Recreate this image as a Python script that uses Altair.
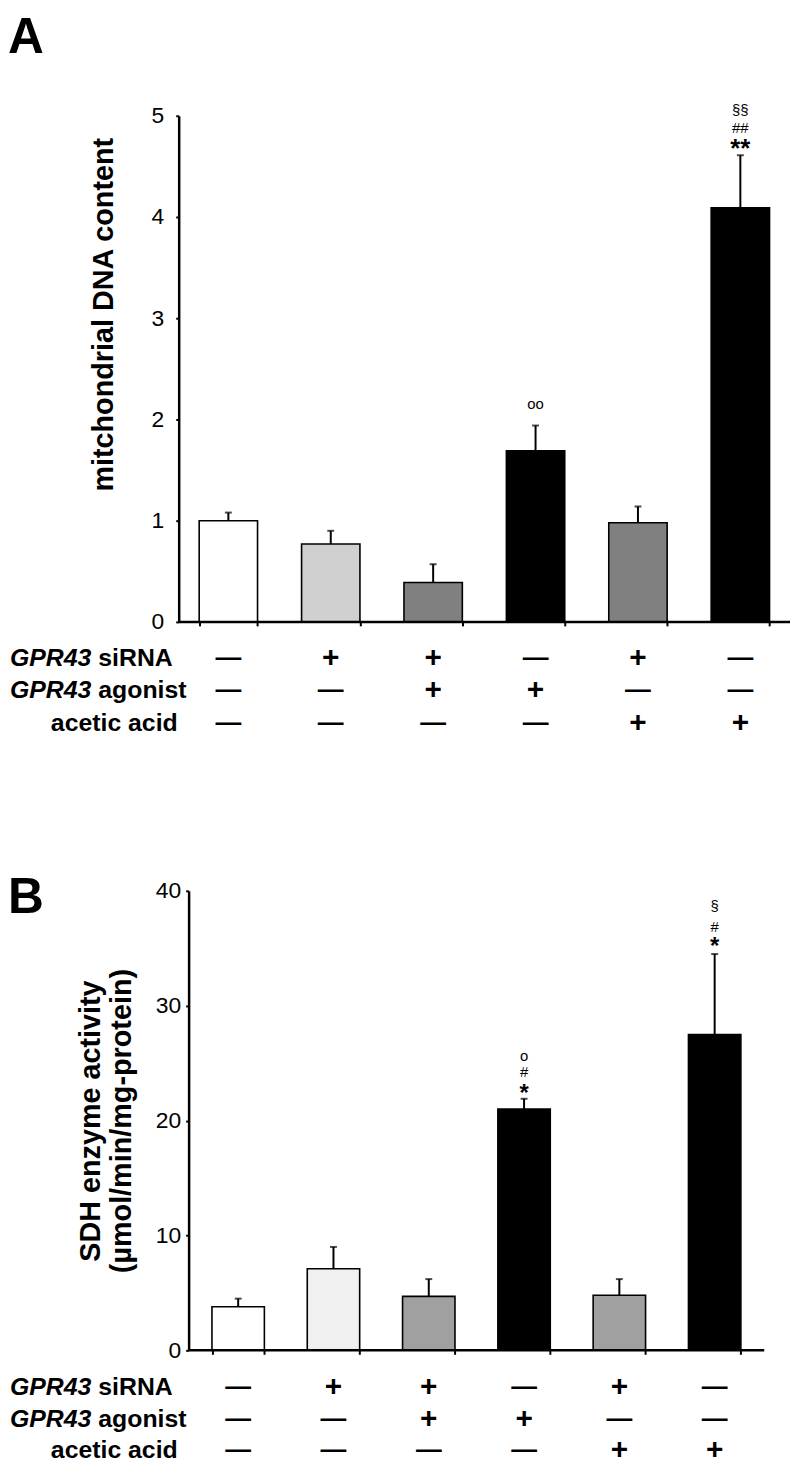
import altair as alt
import pandas as pd

# ---------------- data ----------------
groups = ["1", "2", "3", "4", "5", "6"]
row_names = ["siRNA", "agonist", "acetic"]
row_prefix = ["GPR43", "GPR43", ""]
row_suffix = ["siRNA", "agonist", "acetic acid"]
sirna_signs = ["—", "+", "+", "—", "+", "—"]
agonist_signs = ["—", "—", "+", "+", "—", "—"]
acetic_signs = ["—", "—", "—", "—", "+", "+"]

a_means = [1.00, 0.77, 0.39, 1.69, 0.98, 4.09]
a_errs = [0.08, 0.13, 0.18, 0.25, 0.16, 0.52]
a_colors = ["#ffffff", "#d0d0d0", "#808080", "#000000", "#808080", "#000000"]
a_ticks = [0, 1, 2, 3, 4, 5]
a_mark_groups = ["4", "6", "6", "6"]
a_mark_texts = ["oo", "**", "##", "§§"]
a_mark_y = [2.15, 4.67, 4.88, 5.06]

b_means = [3.8, 7.1, 4.7, 21.0, 4.8, 27.5]
b_errs = [0.7, 1.9, 1.5, 0.9, 1.4, 7.0]
b_colors = ["#ffffff", "#f0f0f0", "#a0a0a0", "#000000", "#a0a0a0", "#000000"]
b_ticks = [0, 10, 20, 30, 40]
b_mark_groups = ["4", "4", "4", "6", "6", "6"]
b_mark_texts = ["*", "#", "o", "*", "#", "§"]
b_mark_y = [22.3, 24.2, 25.6, 35.1, 36.85, 38.7]

FONT = "Liberation Sans"
IS_STAR = "datum.t == '*' || datum.t == '**'"


def panel(letter, means, errs, colors, ymax, ticks, ytitle, mgroups, mtexts, my,
          W, H, xrange, x0, x1, yoffset, title_pad, label_pad, title_y, row_offsets,
          letter_y, star_size):
    df = pd.DataFrame({"g": groups, "m": means,
                       "e": [m + e for m, e in zip(means, errs)]})
    mk = pd.DataFrame({"g": mgroups, "t": mtexts, "y": my})
    tab = pd.DataFrame({
        "g": groups * 3,
        "row": [r for r in row_names for _ in groups],
        "s": sirna_signs + agonist_signs + acetic_signs,
    })
    lbl = pd.DataFrame({"row": row_names, "pre": row_prefix, "suf": row_suffix})

    xs = alt.Scale(domain=groups, range=xrange, paddingInner=0.45 if W < 600 else 0.43,
                   paddingOuter=0.245 if W < 600 else 0.2)
    x = alt.X("g:N", sort=groups, scale=xs,
              axis=alt.Axis(title=None, labels=False, domain=False, ticks=True,
                            tickBand="extent", tickSize=4, tickWidth=2,
                            tickColor="black", grid=False))
    ys = alt.Scale(domain=[0, ymax], nice=False, zero=True)
    axis_kw = dict(values=ticks, title=ytitle, titleFont=FONT, titleFontSize=29,
                   titleFontWeight="bold", titleColor="black", titlePadding=title_pad,
                   titleLineHeight=31,
                   labelFont=FONT, labelFontSize=23, labelColor="black",
                   labelPadding=label_pad, tickSize=3, tickWidth=2, tickColor="black",
                   domainWidth=2.5, domainColor="black", grid=False, offset=yoffset)
    if title_y is not None:
        axis_kw["titleY"] = title_y
    y_axis = alt.Axis(**axis_kw)

    bars = alt.Chart(df).mark_bar(stroke="black", strokeWidth=1.6).encode(
        x=x,
        y=alt.Y("m:Q", scale=ys, axis=y_axis),
        color=alt.Color("g:N", scale=alt.Scale(domain=groups, range=colors), legend=None),
    )
    err = alt.Chart(df).mark_rule(color="black", strokeWidth=2).encode(
        x=x, y=alt.Y("m:Q", scale=ys, axis=None), y2="e:Q")
    cap = alt.Chart(df).mark_tick(color="black", thickness=2, size=7).encode(
        x=x, y=alt.Y("e:Q", scale=ys, axis=None))
    base = alt.Chart(pd.DataFrame({"z": [0]})).mark_rule(color="black", strokeWidth=2.5).encode(
        y=alt.Y("z:Q", scale=ys, axis=None), x=alt.value(x0), x2=alt.value(x1))

    stars = alt.Chart(mk).transform_filter(IS_STAR).mark_text(
        font=FONT, fontSize=star_size, fontWeight="bold", color="black", baseline="middle").encode(
        x=x, y=alt.Y("y:Q", scale=ys, axis=None), text="t:N")
    others = alt.Chart(mk).transform_filter("!(" + IS_STAR + ")").mark_text(
        font=FONT, fontSize=15, color="black", baseline="middle").encode(
        x=x, y=alt.Y("y:Q", scale=ys, axis=None), text="t:N")

    yt = alt.Y("row:N", scale=alt.Scale(type="point", domain=row_names,
                                         range=[H + row_offsets[0], H + row_offsets[1]],
                                         padding=0), axis=None)
    plus = alt.Chart(tab).transform_filter(alt.datum.s == "+").mark_text(
        font=FONT, fontSize=30, fontWeight="bold", color="black").encode(
        x=x, y=yt, text="s:N")
    dash = alt.Chart(tab).transform_filter(alt.datum.s == "—").mark_text(
        font=FONT, fontSize=26, fontWeight="bold", color="black").encode(
        x=x, y=yt, text="s:N")
    pre = alt.Chart(lbl).transform_filter(alt.datum.pre != "").mark_text(
        font=FONT, fontSize=25, fontWeight="bold", fontStyle="italic", align="left",
        color="black").encode(x=alt.value(-170), y=yt, text="pre:N")
    suf = alt.Chart(lbl).transform_filter(alt.datum.pre != "").mark_text(
        font=FONT, fontSize=25, fontWeight="bold", align="left", color="black").encode(
        x=alt.value(-81), y=yt, text="suf:N")
    acetic = alt.Chart(lbl).transform_filter(alt.datum.pre == "").mark_text(
        font=FONT, fontSize=25, fontWeight="bold", align="right", color="black").encode(
        x=alt.value(-1), y=yt, text="suf:N")

    let = alt.Chart(pd.DataFrame({"t": [letter]})).mark_text(
        font=FONT, fontSize=50, fontWeight="bold", align="left", baseline="top",
        color="black").encode(x=alt.value(-172), y=alt.value(letter_y), text="t:N")

    return alt.layer(bars, err, cap, base, stars, others, plus, dash, pre, suf, acetic, let).resolve_scale(
        y="independent").properties(width=W, height=H)


pa = panel("A", a_means, a_errs, a_colors, 5, a_ticks, "mitchondrial DNA content",
           a_mark_groups, a_mark_texts, a_mark_y,
           W=616, H=510, xrange=[0, 616], x0=0, x1=616, yoffset=0, title_pad=33,
           label_pad=12, title_y=200, row_offsets=(36, 102), letter_y=-103, star_size=26)
pb = panel("B", b_means, b_errs, b_colors, 40, b_ticks,
           ["SDH enzyme activity", "(µmol/min/mg-protein)"],
           b_mark_groups, b_mark_texts, b_mark_y,
           W=590, H=463, xrange=[10, 590], x0=10, x1=590, yoffset=-10, title_pad=19,
           label_pad=5, title_y=None, row_offsets=(37, 101), letter_y=-18, star_size=24)

chart = alt.vconcat(pa, pb, spacing=136).resolve_scale(
    color="independent", x="independent", y="independent").properties(
    padding=0).configure(font=FONT).configure_view(stroke=None)

chart.save("out.html", embed_options={"renderer": "svg", "actions": False})
